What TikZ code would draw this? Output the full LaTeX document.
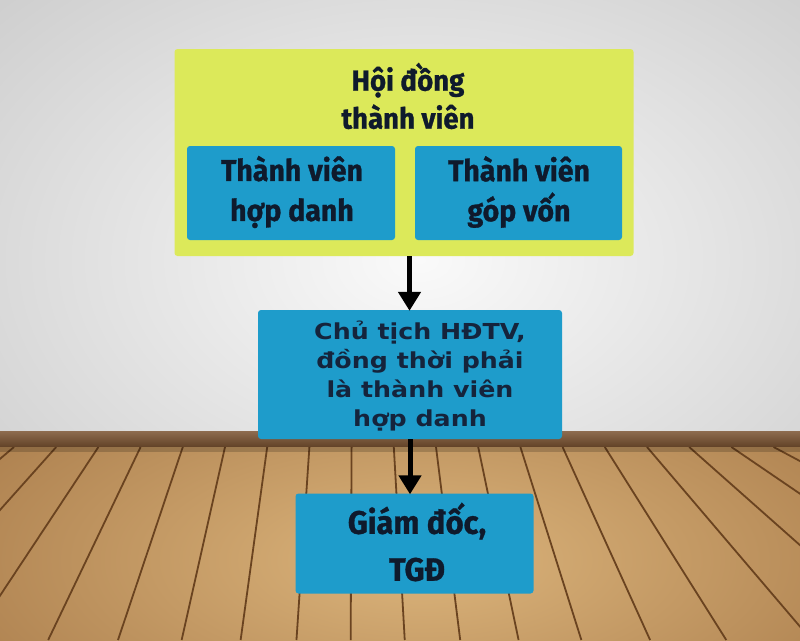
\documentclass[tikz,border=0pt]{standalone}
\usepackage{fontspec}
\usetikzlibrary{arrows.meta,positioning}
\newfontfamily\hfont[FakeStretch=0.95, BoldFeatures={FakeBold=1}]{Fira Sans}
\newfontfamily\gfont[FakeStretch=1.15]{DejaVu Sans}
\definecolor{ylw}{HTML}{DCE95A}
\definecolor{blu}{HTML}{1E9CCB}
\definecolor{ink}{HTML}{0F1A2C}
\definecolor{ink2}{HTML}{15243C}
\definecolor{wood}{HTML}{C39862}
\definecolor{woodlight}{HTML}{DCB57C}
\definecolor{wooddark}{HTML}{A47646}
\definecolor{plank}{HTML}{6A4320}
\definecolor{base}{HTML}{7A5230}
\tikzset{
  box/.style={draw=none, rounded corners=3pt, inner sep=0pt},
  ybox/.style={box, fill=ylw},
  bbox/.style={box, fill=blu},
  txt/.style={text=ink, align=center, inner sep=0pt},
  flow/.style={draw=black, line width=5pt, -{Triangle[width=22pt,length=19pt]}, shorten >=-1pt},
  groove/.style={draw=plank, line width=1.8pt}
}
\begin{document}
\begin{tikzpicture}[x=1pt,y=-1pt]
\useasboundingbox (0,0) rectangle (800,640);
% wall
\fill[gray!40] (0,0) rectangle (800,431);
\begin{scope}
  \clip (0,0) rectangle (800,431);
  \shade[inner color=white!96!gray, outer color=gray!42] (420,260) ellipse (640 and 430);
\end{scope}
% baseboard
\shade[top color=base!85!white, bottom color=base!80!black] (0,431) rectangle (800,447);
% floor
\begin{scope}
  \clip (0,447) rectangle (800,640);
  \fill[wood] (0,447) rectangle (800,640);
  \shade[inner color=woodlight, outer color=wooddark] (420,560) ellipse (620 and 260);
  \foreach \i in {-3,...,21}{
    \pgfmathsetmacro{\xt}{14+42.2*\i}
    \pgfmathsetmacro{\d}{\xt-355}
    \pgfmathsetmacro{\s}{0.001434*\d+0.0174*(\d/100)^3}
    \pgfmathsetmacro{\xb}{\xt+\s*193}
    \draw[groove] (\xt,447) -- (\xb,640);
  }
  \fill[black, opacity=0.18] (0,447) rectangle (800,452);
\end{scope}
% top group
\node[ybox, minimum width=459pt, minimum height=207pt] (hdtv) at (404,152.5) {};
\node[txt, font=\hfont\bfseries\fontsize{29}{38}\selectfont] (hdtvt) at (408,96) {Hội đồng\\thành viên};
\node[bbox, minimum width=208pt, minimum height=94pt] (tvhd) at (291,193) {};
\node[txt, font=\hfont\bfseries\fontsize{30}{40}\selectfont] (tvhdt) at (292,192) {Thành viên\\hợp danh};
\node[bbox, minimum width=207pt, minimum height=94pt] (tvgv) at (518.5,193) {};
\node[txt, font=\hfont\bfseries\fontsize{30}{40}\selectfont] (tvgvt) at (519,192) {Thành viên\\góp vốn};
% middle
\node[bbox, minimum width=304pt, minimum height=129pt] (ct) at (410,374.5) {};
\node[txt, text=ink2, font=\gfont\bfseries\fontsize{22}{29}\selectfont] (ctt) at (420,376) {Chủ tịch HĐTV,\\đồng thời phải\\là thành viên\\hợp danh};
% bottom
\node[bbox, minimum width=238pt, minimum height=100pt] (gd) at (414.5,543.5) {};
\node[txt, font=\hfont\bfseries\fontsize{32.5}{47}\selectfont] (gdt) at (417,542) {Giám đốc,\\TGĐ};
% arrows
\draw[flow] (hdtv.south -| 409.5,0) -- (ct.north -| 409.5,0);
\draw[flow] (ct.south -| 410,0) -- (gd.north -| 410,0);
\end{tikzpicture}
\end{document}
